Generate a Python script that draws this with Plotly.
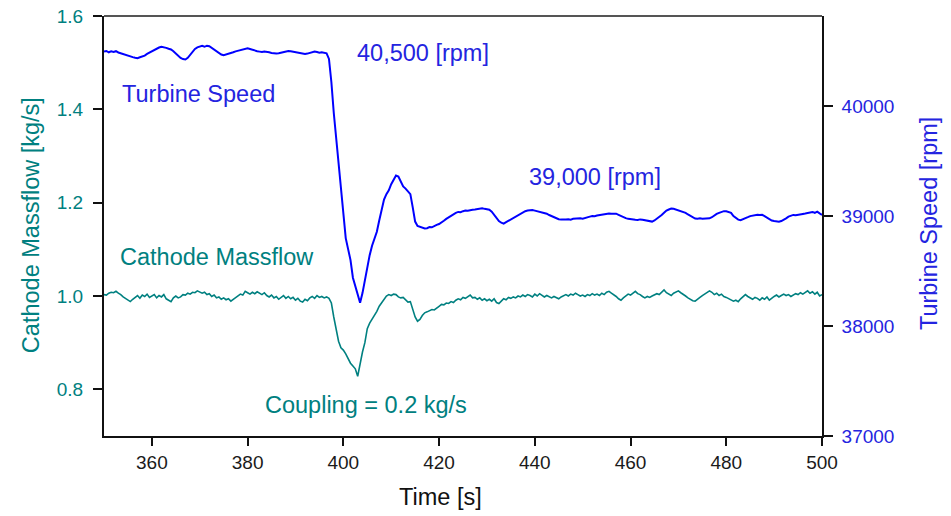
import numpy as np
import plotly.graph_objects as go

# Sampling of the logged signals
T_START = 350.0   # s
DT = 0.5          # s

# Turbine speed [rpm], one row = 10 s
turbine_speed_rpm = [
    40496, 40502, 40490, 40498, 40493, 40500, 40488, 40480, 40472, 40465, 40458, 40450, 40446, 40440, 40436, 40445, 40452, 40460, 40475, 40488,
    40500, 40512, 40525, 40533, 40540, 40538, 40530, 40522, 40515, 40500, 40478, 40455, 40438, 40428, 40424, 40440, 40470, 40500, 40520, 40535,
    40542, 40548, 40540, 40550, 40545, 40530, 40512, 40495, 40478, 40470, 40463, 40468, 40475, 40482, 40490, 40498, 40505, 40512, 40518, 40522,
    40526, 40520, 40512, 40505, 40500, 40496, 40492, 40497, 40496, 40490, 40484, 40480, 40478, 40482, 40488, 40494, 40498, 40502, 40500, 40496,
    40488, 40482, 40478, 40480, 40475, 40478, 40484, 40490, 40496, 40492, 40486, 40490, 40485, 40481, 40430, 40220, 39940, 39700, 39470, 39240,
    39000, 38800, 38700, 38600, 38440, 38370, 38300, 38211, 38300, 38420, 38540, 38645, 38730, 38800, 38858, 38960, 39070, 39150, 39200, 39235,
    39290, 39330, 39369, 39360, 39320, 39270, 39250, 39220, 39200, 39080, 38950, 38910, 38900, 38893, 38887, 38890, 38900, 38898, 38912, 38920,
    38928, 38940, 38958, 38975, 38990, 39008, 39020, 39030, 39038, 39035, 39045, 39050, 39048, 39055, 39058, 39060, 39064, 39070, 39072, 39066,
    39062, 39058, 39040, 39010, 38985, 38955, 38940, 38932, 38945, 38958, 38970, 38978, 38990, 39005, 39020, 39035, 39045, 39050, 39053, 39055,
    39050, 39045, 39040, 39032, 39025, 39022, 39010, 39000, 38990, 38980, 38972, 38968, 38966, 38970, 38972, 38968, 38975, 38978, 38976, 38980,
    38977, 38985, 38990, 38995, 39000, 38998, 39005, 39010, 39015, 39018, 39020, 39024, 39022, 39020, 39022, 39012, 39000, 38990, 38982, 38975,
    38970, 38968, 38966, 38964, 38970, 38966, 38963, 38960, 38952, 38950, 38960, 38975, 38990, 39010, 39030, 39050, 39060, 39068, 39066, 39060,
    39050, 39045, 39038, 39030, 39015, 39000, 38990, 38978, 38976, 38980, 38976, 38978, 38977, 38980, 38990, 39008, 39020, 39030, 39040, 39045,
    39044, 39040, 39030, 39000, 38980, 38968, 38963, 38970, 38980, 38990, 39000, 39005, 39010, 39012, 39010, 39012, 39000, 38985, 38972, 38960,
    38955, 38950, 38948, 38955, 38965, 38980, 38995, 39005, 39011, 39008, 39010, 39015, 39020, 39024, 39030, 39034, 39038, 39030, 39040, 39025,
    39011,
]

# Cathode mass flow [kg/s], one row = 10 s
cathode_massflow = [
    1.003, 1.002, 1.006, 1.008, 1.007, 1.010, 1.006, 1.003, 0.998, 0.994, 0.991, 0.988, 0.993, 0.997, 1.001, 0.995, 1.002, 0.999, 1.004, 0.997,
    1.000, 1.003, 0.996, 1.001, 0.998, 1.003, 0.994, 0.990, 0.988, 0.996, 1.000, 0.996, 0.998, 1.003, 1.002, 1.006, 1.004, 1.008, 1.007, 1.011,
    1.009, 1.006, 1.008, 1.003, 1.005, 0.999, 1.002, 0.996, 0.998, 0.993, 0.996, 0.992, 0.994, 0.989, 0.993, 0.997, 1.001, 1.004, 1.002, 1.010,
    1.007, 1.004, 1.008, 1.005, 1.009, 1.006, 1.003, 1.007, 1.001, 0.998, 1.002, 0.996, 0.999, 0.993, 0.997, 1.001, 0.995, 0.999, 0.994, 0.997,
    0.991, 0.995, 0.989, 0.987, 0.993, 0.990, 0.996, 0.999, 0.995, 1.001, 0.997, 0.999, 0.996, 0.998, 0.995, 0.985, 0.955, 0.925, 0.903, 0.889,
    0.884, 0.876, 0.866, 0.856, 0.850, 0.844, 0.828, 0.858, 0.880, 0.900, 0.930, 0.942, 0.950, 0.958, 0.967, 0.978, 0.985, 0.992, 1.000, 1.003,
    1.001, 1.004, 1.003, 0.998, 0.996, 0.997, 0.991, 0.987, 0.988, 0.972, 0.955, 0.946, 0.950, 0.958, 0.964, 0.966, 0.968, 0.971, 0.970, 0.975,
    0.978, 0.982, 0.981, 0.985, 0.984, 0.988, 0.986, 0.991, 0.994, 0.992, 0.997, 0.995, 0.999, 1.002, 0.996, 0.997, 0.993, 0.996, 0.991, 0.994,
    0.990, 0.993, 0.989, 0.994, 0.986, 0.984, 0.989, 0.994, 0.992, 0.997, 0.995, 0.998, 0.996, 1.000, 0.998, 1.002, 0.999, 1.003, 1.001, 0.998,
    1.004, 1.000, 1.005, 1.002, 0.998, 1.001, 0.999, 0.996, 0.999, 0.997, 0.994, 0.998, 1.000, 1.003, 1.000, 1.004, 1.002, 1.006, 1.003, 1.000,
    1.002, 0.999, 1.003, 1.001, 1.005, 1.002, 1.004, 1.001, 1.006, 1.003, 1.008, 1.010, 1.006, 1.003, 0.999, 0.994, 0.991, 0.996, 1.001, 1.004,
    1.002, 1.007, 1.010, 1.005, 1.003, 0.999, 0.996, 0.999, 0.997, 1.000, 1.002, 1.005, 1.003, 1.008, 1.013, 1.007, 1.004, 1.001, 1.006, 1.009,
    1.011, 1.007, 1.004, 1.000, 0.996, 0.993, 0.990, 0.989, 0.994, 0.997, 1.001, 1.004, 1.007, 1.011, 1.008, 1.003, 1.006, 1.001, 1.004, 0.999,
    0.997, 0.994, 0.992, 0.989, 0.991, 0.988, 0.994, 0.999, 1.003, 0.999, 0.996, 0.993, 0.997, 0.995, 0.991, 0.996, 0.993, 0.998, 0.991, 0.996,
    0.999, 1.002, 0.998, 1.001, 1.004, 1.001, 1.003, 0.999, 1.002, 1.005, 1.003, 1.007, 1.004, 1.008, 1.011, 1.006, 1.009, 1.004, 1.008, 1.000,
    1.003,
]

assert len(turbine_speed_rpm) == len(cathode_massflow) == 301
time_s = T_START + DT * np.arange(len(turbine_speed_rpm))

# Axis ticks
x_ticks = [360, 380, 400, 420, 440, 460, 480, 500]
massflow_ticks = [0.8, 1.0, 1.2, 1.4, 1.6]
speed_ticks = [37000, 38000, 39000, 40000]

TEAL = "#008080"
BLUE = "#0000ff"
BLUE_TEXT = "#2424e0"
FONT = "Liberation Sans, Arial, sans-serif"

fig = go.Figure()
fig.add_trace(go.Scatter(
    x=time_s, y=cathode_massflow, mode="lines", yaxis="y",
    line=dict(color=TEAL, width=1.6), showlegend=False, hoverinfo="skip",
))
fig.add_trace(go.Scatter(
    x=time_s, y=turbine_speed_rpm, mode="lines", yaxis="y2",
    line=dict(color=BLUE, width=2), showlegend=False, hoverinfo="skip",
))

fig.update_layout(
    width=951, height=516,
    margin=dict(l=104, r=129, t=16, b=80, autoexpand=False),
    paper_bgcolor="white", plot_bgcolor="white",
    font=dict(family=FONT, size=19, color="#111"),
    xaxis=dict(
        range=[350, 500], tickvals=x_ticks, ticks="outside", ticklen=8,
        tickwidth=2, tickcolor="#111", showline=True, linecolor="#111",
        linewidth=2, showgrid=False, zeroline=False, automargin=False,
        tickfont=dict(size=19, color="#1a1a1a"),
    ),
    yaxis=dict(
        range=[0.7, 1.6], tickvals=massflow_ticks, tickformat=".1f",
        ticks="outside", ticklen=9, tickwidth=2, tickcolor="#111",
        showline=True, linecolor="#111", linewidth=2, showgrid=False,
        zeroline=False, automargin=False,
        tickfont=dict(size=19, color=TEAL), ticklabelstandoff=6,
    ),
    yaxis2=dict(
        range=[37000, 40820], tickvals=speed_ticks, tickformat="d",
        overlaying="y", side="right", anchor="x",
        ticks="outside", ticklen=9, tickwidth=2, tickcolor="#111",
        showline=True, linecolor="#111", linewidth=1.6, showgrid=False,
        zeroline=False, automargin=False,
        tickfont=dict(size=19, color=BLUE_TEXT), ticklabelstandoff=5,
    ),
)

# Top frame line
fig.add_shape(type="line", xref="paper", yref="paper", x0=0, x1=1, y0=1, y1=1,
              line=dict(color="#555", width=2))

ANN = 23.5
labels = [
    dict(text="Turbine Speed", x=353.3, y=1.432, color=BLUE_TEXT),
    dict(text="40,500 [rpm]", x=402.4, y=1.520, color=BLUE_TEXT),
    dict(text="39,000 [rpm]", x=438.3, y=1.255, color=BLUE_TEXT),
    dict(text="Cathode Massflow", x=352.9, y=1.083, color=TEAL),
    dict(text="Coupling = 0.2 kg/s", x=383.2, y=0.766, color=TEAL),
]
for lab in labels:
    fig.add_annotation(
        text=lab["text"], x=lab["x"], y=lab["y"], xref="x", yref="y",
        xanchor="left", yanchor="middle", showarrow=False,
        font=dict(family=FONT, size=ANN, color=lab["color"]),
    )

# Axis titles
fig.add_annotation(text="Time [s]", xref="paper", yref="paper",
                   x=0.468, y=-0.145, xanchor="center", yanchor="middle",
                   showarrow=False, font=dict(family=FONT, size=ANN, color="#111"))
fig.add_annotation(text="Cathode Massflow [kg/s]", xref="paper", yref="paper",
                   x=-0.1017, y=0.502, xanchor="center", yanchor="middle",
                   textangle=-90, showarrow=False,
                   font=dict(family=FONT, size=ANN, color=TEAL))
fig.add_annotation(text="Turbine Speed [rpm]", xref="paper", yref="paper",
                   x=1.149, y=0.507, xanchor="center", yanchor="middle",
                   textangle=-90, showarrow=False,
                   font=dict(family=FONT, size=ANN, color=BLUE_TEXT))

fig.write_html("out.html")
